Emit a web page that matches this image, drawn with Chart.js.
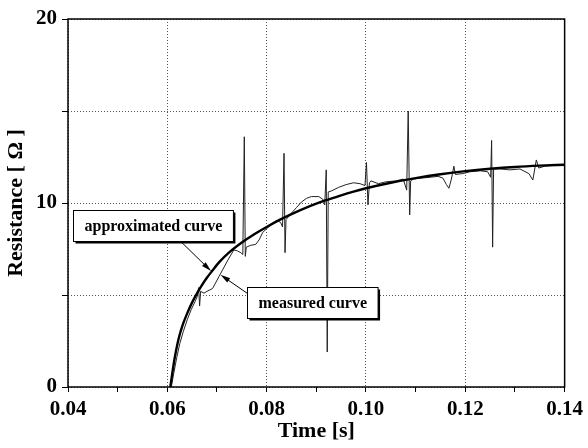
<!DOCTYPE html>
<html>
<head>
<meta charset="utf-8">
<script src="https://cdn.jsdelivr.net/npm/chart.js@4"></script>
<style>
  html, body { margin: 0; padding: 0; background: #fff; }
  #wrap { width: 588px; height: 448px; }
</style>
</head>
<body>
<div id="wrap"><canvas id="chart" width="588" height="448"></canvas></div>
<script>
// values: time [s] / resistance [Ohm]
const approxTime = [0.0606, 0.061, 0.0615, 0.062, 0.0625, 0.063, 0.064, 0.065, 0.066, 0.067,
  0.068, 0.069, 0.0705, 0.0724, 0.075, 0.0775, 0.080, 0.0825, 0.085, 0.0875,
  0.090, 0.0925, 0.095, 0.0975, 0.100, 0.105, 0.110, 0.115, 0.120, 0.125,
  0.130, 0.135, 0.140];
const approxResistance = [0, 0.75, 1.6, 2.3, 2.85, 3.3, 4.0, 4.6, 5.1, 5.55,
  5.95, 6.3, 6.8, 7.3, 7.85, 8.3, 8.7, 9.07, 9.4, 9.7,
  9.97, 10.2, 10.42, 10.62, 10.8, 11.1, 11.35, 11.56, 11.73, 11.86,
  11.96, 12.03, 12.08];

const measuredTime = [0.0608, 0.0613, 0.0619, 0.0625, 0.0632, 0.064, 0.0648, 0.0656, 0.066, 0.0663, 0.0665, 0.0667,
  0.0674, 0.068, 0.0691, 0.0697, 0.0704, 0.0711, 0.0722, 0.0734, 0.0741, 0.0748,
  0.0752, 0.0755, 0.0757, 0.0759, 0.0768, 0.0778, 0.0785, 0.0792, 0.080, 0.081,
  0.082, 0.0828, 0.0832, 0.0835, 0.0837, 0.0839, 0.085, 0.086, 0.087, 0.088,
  0.089, 0.0905, 0.0913, 0.0917, 0.092, 0.0922, 0.0924, 0.093, 0.0945, 0.096,
  0.0975, 0.0988, 0.0998, 0.1001, 0.1004, 0.1007, 0.101, 0.1025, 0.104, 0.106,
  0.1075, 0.1082, 0.1085, 0.1088, 0.109, 0.1095, 0.111, 0.113, 0.1145, 0.1155,
  0.1162, 0.1167, 0.1172, 0.1177, 0.118, 0.1195, 0.121, 0.123, 0.1245, 0.1251,
  0.1253, 0.1255, 0.1257, 0.127, 0.129, 0.131, 0.1328, 0.1336, 0.1343, 0.1348,
  0.136, 0.138, 0.140];
const measuredResistance = [0, 0.75, 1.6, 2.35, 3.0, 3.65, 4.2, 4.65, 4.9, 5.4, 4.4, 5.2,
  5.1, 5.2, 5.35, 5.65, 6.0, 6.35, 6.9, 7.45, 7.4, 7.3,
  7.2, 13.6, 7.1, 7.6, 7.7, 7.75, 8.0, 8.4, 8.6, 8.85,
  9.05, 8.95, 8.7, 12.7, 7.3, 9.1, 9.45, 9.75, 10.05, 10.25,
  10.35, 10.35, 10.2, 9.9, 11.8, 1.9, 10.6, 10.65, 10.85, 11.0,
  11.1, 11.05, 10.95, 12.2, 9.9, 11.1, 11.2, 11.05, 11.15, 11.2,
  11.3, 10.7, 15.0, 9.35, 11.2, 11.3, 11.35, 11.4, 11.45, 11.35,
  11.0, 10.8, 11.3, 12.0, 11.55, 11.6, 11.7, 11.75, 11.7, 11.4,
  13.4, 7.6, 11.85, 11.85, 11.8, 11.85, 11.6, 11.25, 12.34, 11.9,
  12.0, 12.05, 12.05];

const xTickLabels = ['0.04', '0.06', '0.08', '0.10', '0.12', '0.14'];
const yTickLabels = ['0', '10', '20'];
const seriesNames = ['approximated curve', 'measured curve'];

const serif = "'Liberation Serif', 'DejaVu Serif', serif";

// callout boxes with arrows, anchored in data units
const callouts = [
  { text: seriesNames[0], at: { x: 0.0572, y: 8.78 }, from: { x: 0.0624, y: 7.99 }, to: { x: 0.0688, y: 6.3 } },
  { text: seriesNames[1], at: { x: 0.0892, y: 4.57 }, from: { x: 0.0761, y: 5.09 }, to: { x: 0.0707, y: 6.1 } },
];

function toPoints(xs, ys) {
  return xs.map((x, i) => ({ x: x, y: ys[i] }));
}

const framePlugin = {
  id: 'frame',
  afterDatasetsDraw(chart) {
    const ctx = chart.ctx;
    const xs = chart.scales.x, ys = chart.scales.y;
    ctx.save();
    ctx.font = 'bold 16px ' + serif;
    callouts.forEach(c => {
      // arrow
      const x1 = xs.getPixelForValue(c.from.x), y1 = ys.getPixelForValue(c.from.y);
      const x2 = xs.getPixelForValue(c.to.x), y2 = ys.getPixelForValue(c.to.y);
      const ang = Math.atan2(y2 - y1, x2 - x1);
      ctx.strokeStyle = '#000';
      ctx.lineWidth = 1;
      ctx.beginPath();
      ctx.moveTo(x1, y1);
      ctx.lineTo(x2 - 7 * Math.cos(ang), y2 - 7 * Math.sin(ang));
      ctx.stroke();
      ctx.fillStyle = '#000';
      ctx.beginPath();
      ctx.moveTo(x2, y2);
      ctx.lineTo(x2 - 10 * Math.cos(ang) + 2.6 * Math.sin(ang), y2 - 10 * Math.sin(ang) - 2.6 * Math.cos(ang));
      ctx.lineTo(x2 - 10 * Math.cos(ang) - 2.6 * Math.sin(ang), y2 - 10 * Math.sin(ang) + 2.6 * Math.cos(ang));
      ctx.closePath();
      ctx.fill();

      // box with shadow
      const cx = xs.getPixelForValue(c.at.x), cy = ys.getPixelForValue(c.at.y);
      const w = ctx.measureText(c.text).width + 22, h = 31;
      const bx = Math.round(cx - w / 2) + 0.5, by = Math.round(cy - h / 2) + 0.5;
      ctx.fillStyle = '#000';
      ctx.fillRect(bx + 2, by + 2, w, h);
      ctx.fillStyle = '#fff';
      ctx.fillRect(bx, by, w, h);
      ctx.strokeRect(bx, by, w, h);
      ctx.fillStyle = '#000';
      ctx.textAlign = 'center';
      ctx.textBaseline = 'middle';
      ctx.fillText(c.text, bx + w / 2, by + h / 2 + 1);
    });
    ctx.restore();
  },
  afterDraw(chart) {
    const { left, top, right, bottom } = chart.chartArea;
    const ctx = chart.ctx;
    ctx.save();
    ctx.strokeStyle = '#000';
    ctx.lineWidth = 1.5;
    ctx.strokeRect(left, top, right - left, bottom - top);
    ctx.restore();
  }
};

new Chart(document.getElementById('chart'), {
  type: 'line',
  data: {
    datasets: [
      {
        label: seriesNames[0],
        data: toPoints(approxTime, approxResistance),
        borderColor: '#000',
        borderWidth: 2.4,
        pointRadius: 0,
        cubicInterpolationMode: 'monotone',
        fill: false
      },
      {
        label: seriesNames[1],
        data: toPoints(measuredTime, measuredResistance),
        borderColor: '#222',
        borderWidth: 1,
        pointRadius: 0,
        tension: 0,
        fill: false
      }
    ]
  },
  options: {
    responsive: false,
    devicePixelRatio: 1,
    animation: false,
    layout: { padding: { top: 19, right: 20, bottom: 0, left: 0 } },
    plugins: {
      legend: { display: false },
      tooltip: { enabled: false }
    },
    scales: {
      x: {
        type: 'linear',
        min: 0.04,
        max: 0.14,
        afterFit: s => { s.height = 61; },
        border: { display: false, dash: [1, 2] },
        grid: {
          color: c => (c.tick && Math.round(c.tick.value * 100) % 2 === 0) ? '#555' : 'rgba(0,0,0,0)',
          tickColor: '#000',
          tickLength: 5,
          lineWidth: 1
        },
        ticks: {
          stepSize: 0.01,
          autoSkip: false,
          maxRotation: 0,
          padding: 5,
          color: '#000',
          font: { family: serif, size: 21, weight: 'bold' },
          callback: v => {
            const s = Number(v).toFixed(2);
            return xTickLabels.includes(s) ? s : '';
          }
        },
        title: {
          display: true,
          text: 'Time [s]',
          color: '#000',
          padding: { top: 0, bottom: 3 },
          font: { family: serif, size: 22, weight: 'bold' }
        }
      },
      y: {
        min: 0,
        max: 20,
        afterFit: s => { s.width = 68; },
        border: { display: false, dash: [1, 2] },
        grid: {
          color: '#555',
          tickColor: '#000',
          tickLength: 6,
          lineWidth: 1
        },
        ticks: {
          stepSize: 5,
          autoSkip: false,
          padding: 5,
          color: '#000',
          font: { family: serif, size: 21, weight: 'bold' },
          callback: v => {
            const s = String(Math.round(v));
            return yTickLabels.includes(s) ? s : '';
          }
        },
        title: {
          display: true,
          text: 'Resistance [ Ω ]',
          color: '#000',
          padding: { top: 3, bottom: 0 },
          font: { family: serif, size: 22, weight: 'bold' }
        }
      }
    }
  },
  plugins: [framePlugin]
});
</script>
</body>
</html>
